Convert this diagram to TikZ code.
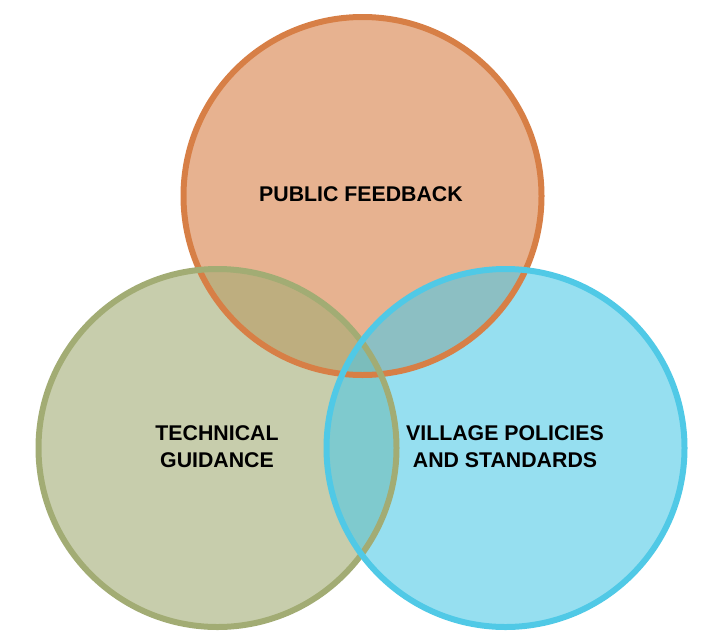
\documentclass[tikz,border=0pt]{standalone}
\usepackage{fontspec}
\setmainfont{Liberation Sans}
\begin{document}
\begin{tikzpicture}[x=1pt,y=-1pt,
  ring/.style={line width=6pt},
  label/.style={font=\bfseries\fontsize{21.3}{27}\selectfont, align=center, text=black, inner sep=0pt}]
\definecolor{pubcol}{RGB}{215,127,70}
\definecolor{techcol}{RGB}{162,172,116}
\definecolor{villcol}{RGB}{80,201,230}
\useasboundingbox (0,0) rectangle (703,635);
% circle centres
\coordinate (cpub) at (362.5,196);
\coordinate (ctech) at (217.5,448);
\coordinate (cvill) at (505.5,448);
% translucent fills first, so the rings stay crisp on top
\fill[pubcol, fill opacity=0.6] (cpub) circle (179);
\fill[techcol, fill opacity=0.6] (ctech) circle (179);
\fill[villcol, fill opacity=0.6] (cvill) circle (179);
% rings
\draw[ring, pubcol] (cpub) circle (179);
\draw[ring, techcol] (ctech) circle (179);
\draw[ring, villcol] (cvill) circle (179);
% labels
\node[label] (pub) at (361,194.5) {PUBLIC FEEDBACK};
\node[label] (tech) at (217,447) {TECHNICAL\\GUIDANCE};
\node[label] (vill) at (505,447) {VILLAGE POLICIES\\AND STANDARDS};
\end{tikzpicture}
\end{document}
